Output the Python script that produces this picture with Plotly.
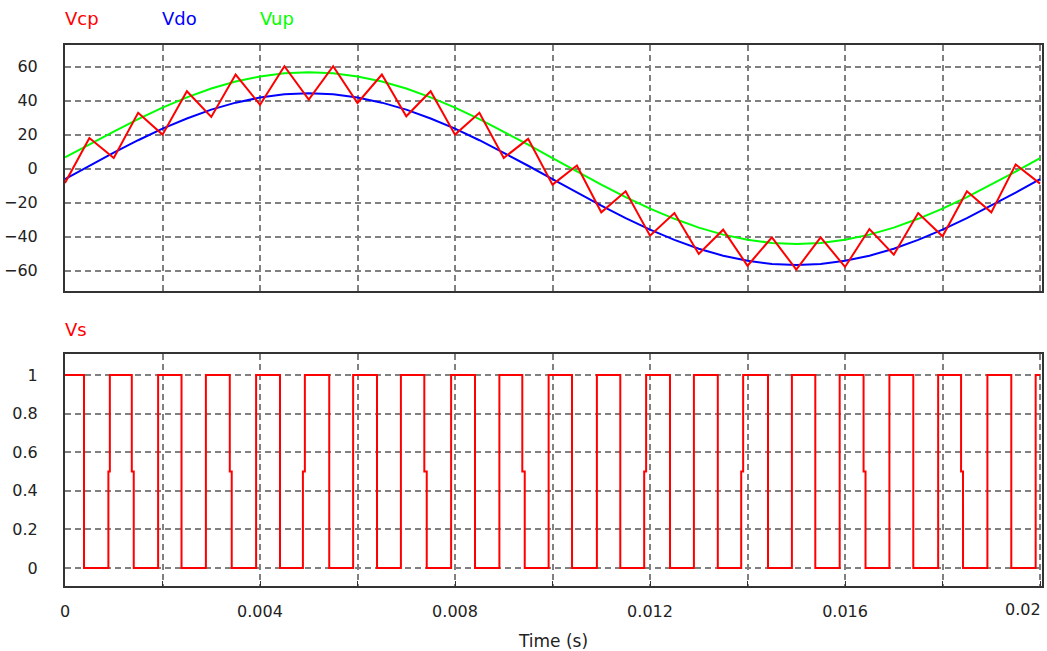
import plotly.graph_objects as go

# ---- data (time in ms) ----
t_ms = [0, 0.5, 1, 1.5, 2, 2.5, 3, 3.5, 4, 4.5, 5, 5.5, 6, 6.5, 7, 7.5, 8, 8.5, 9, 9.5,
        10, 10.5, 11, 11.5, 12, 12.5, 13, 13.5, 14, 14.5, 15, 15.5, 16, 16.5, 17, 17.5,
        18, 18.5, 19, 19.5, 20]

vdo = [-6.2, 1.7, 9.4, 16.7, 23.5, 29.5, 34.7, 38.8, 41.8, 43.7, 44.3, 43.7, 41.8, 38.8,
       34.7, 29.5, 23.5, 16.7, 9.4, 1.7, -6.2, -14.1, -21.8, -29.1, -35.9, -41.9, -47.1,
       -51.2, -54.2, -56.1, -56.7, -56.1, -54.2, -51.2, -47.1, -41.9, -35.9, -29.1, -21.8,
       -14.1, -6.2]

vup = [6.6, 14.3, 21.8, 29.1, 35.9, 41.9, 47.1, 51.2, 54.2, 56.1, 56.7, 56.1, 54.2, 51.2,
       47.1, 41.9, 35.9, 29.1, 21.8, 14.1, 6.2, -1.7, -9.4, -16.7, -23.5, -29.5, -34.7,
       -38.8, -41.8, -43.7, -44.3, -43.7, -41.8, -38.8, -34.7, -29.5, -23.5, -16.7, -9.4,
       -1.7, 6.2]

vcp = [-8.4, 18.0, 6.3, 32.8, 20.0, 45.5, 30.4, 55.3, 37.6, 60.2, 40.6, 60.2, 38.6, 55.3,
       30.8, 45.5, 20.0, 32.8, 6.3, 17.5, -9.4, 1.8, -25.7, -13.3, -39.4, -26.1, -50.2,
       -35.9, -57.1, -40.4, -59.4, -40.4, -57.8, -35.5, -50.6, -26.1, -39.8, -13.3, -25.7,
       2.4, -8.8]

vs_t_ms = [0, 0.39, 0.89, 0.92, 1.37, 1.41, 1.91, 2.39, 2.89, 3.38, 3.42, 3.92, 4.41,
           4.88, 4.92, 5.42, 5.91, 6.40, 6.89, 7.37, 7.42, 7.92, 8.41, 8.91, 9.38, 9.43,
           9.92, 10.40, 10.91, 11.39, 11.88, 11.92, 12.41, 12.90, 13.39, 13.87, 13.91,
           14.42, 14.91, 15.39, 15.89, 16.38, 16.42, 16.91, 17.40, 17.91, 18.38, 18.42,
           18.92, 19.41, 19.91, 20.0]
vs_v = [1, 0, 0.5, 1, 0.5, 0, 1, 0, 1, 0.5, 0, 1, 0,
        0.5, 1, 0, 1, 0, 1, 0.5, 0, 1, 0, 1, 0.5, 0,
        1, 0, 1, 0, 0.5, 1, 0, 1, 0, 0.5, 1,
        0, 1, 0, 1, 0.5, 0, 1, 0, 1, 0.5, 0,
        1, 0, 1, 1]

x_tick_vals = [0, 0.002, 0.004, 0.006, 0.008, 0.010, 0.012, 0.014, 0.016, 0.018, 0.020]
x_tick_text = ["0", "", "0.004", "", "0.008", "", "0.012", "", "0.016", "", "0.02"]
y_top_ticks = [-60, -40, -20, 0, 20, 40, 60]
y_bot_ticks = [0, 0.2, 0.4, 0.6, 0.8, 1]
y_bot_text = ["0", "0.2", "0.4", "0.6", "0.8", "1"]

t_s = [v / 1000 for v in t_ms]
vs_t = [v / 1000 for v in vs_t_ms]

RED = "#ff0000"
BLUE = "#0000ff"
GREEN = "#00ff00"
GRID = "#808080"
FRAME = "#333333"
FONT = "DejaVu Sans"
TICK_COLOR = "#222222"

fig = go.Figure()
fig.add_trace(go.Scatter(x=t_s, y=vdo, mode="lines", name="Vdo",
                         line=dict(color=BLUE, width=2), xaxis="x2", yaxis="y2"))
fig.add_trace(go.Scatter(x=t_s, y=vup, mode="lines", name="Vup",
                         line=dict(color=GREEN, width=2), xaxis="x2", yaxis="y2"))
fig.add_trace(go.Scatter(x=t_s, y=vcp, mode="lines", name="Vcp",
                         line=dict(color=RED, width=2), xaxis="x2", yaxis="y2"))
fig.add_trace(go.Scatter(x=vs_t, y=vs_v, mode="lines", name="Vs", line_shape="hv",
                         line=dict(color=RED, width=2), xaxis="x", yaxis="y"))

common_axis = dict(showline=True, mirror=True, linecolor=FRAME, linewidth=2,
                   showgrid=True, gridcolor=GRID, gridwidth=1.5, griddash="6px,4px",
                   zeroline=False)

X_RANGE = [0, 0.02004]

# the last label sits at the right edge; it is drawn pulled inside the page
shown_text = x_tick_text[:-1] + [""]

fig.update_layout(
    width=1047, height=651,
    margin=dict(l=65, r=3, t=45, b=64),
    paper_bgcolor="white", plot_bgcolor="white",
    showlegend=False,
    font=dict(family=FONT, size=16, color=TICK_COLOR),
    xaxis=dict(domain=[0, 1], range=X_RANGE, anchor="y",
               tickmode="array", tickvals=x_tick_vals, ticktext=shown_text,
               ticks="inside", ticklen=5, tickcolor=FRAME, tickwidth=1,
               ticklabelstandoff=10,
               title=dict(text="Time (s)", standoff=15, font=dict(size=17)),
               **common_axis),
    xaxis2=dict(domain=[0, 1], range=X_RANGE, anchor="y2", matches="x",
                tickmode="array", tickvals=x_tick_vals, showticklabels=False,
                ticks="", **common_axis),
    yaxis=dict(domain=[0, 0.428], range=[-0.093, 1.107], anchor="x",
               tickmode="array", tickvals=y_bot_ticks, ticktext=y_bot_text,
               ticks="", ticklabelstandoff=22, **common_axis),
    yaxis2=dict(domain=[0.5461, 1], range=[-71.7, 72.7], anchor="x2",
                tickmode="array", tickvals=y_top_ticks,
                ticks="", ticklabelstandoff=22, **common_axis),
)

fig.add_annotation(text=x_tick_text[-1], xref="paper", yref="paper",
                   x=1.001, y=-0.0443, xanchor="right", yanchor="middle",
                   showarrow=False, font=dict(family=FONT, size=16, color=TICK_COLOR))

label_font = dict(family=FONT, size=18)
for txt, xp, yp, col in [("Vcp", -0.002, 1.0498, RED), ("Vdo", 0.097, 1.0498, BLUE),
                         ("Vup", 0.198, 1.0498, GREEN), ("Vs", -0.002, 0.474, RED)]:
    fig.add_annotation(text=txt, xref="paper", yref="paper", x=xp, y=yp,
                       xanchor="left", yanchor="middle", showarrow=False,
                       font=dict(color=col, **label_font))

fig.write_html("out.html")
